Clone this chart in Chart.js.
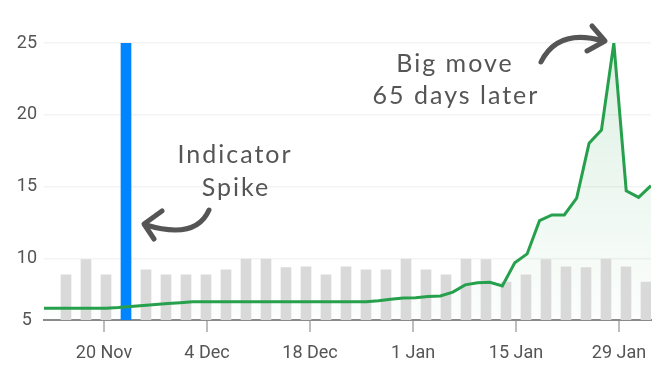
<!DOCTYPE html>
<html>
<head>
<meta charset="utf-8">
<script src="https://cdn.jsdelivr.net/npm/chart.js@4.4.1/dist/chart.umd.min.js"></script>
<style>
  html, body { margin: 0; padding: 0; background: #fff; }
  #wrap { width: 665px; height: 387px; }
</style>
</head>
<body>
<div id="wrap"><canvas id="myChart"></canvas></div>
<script>
// date axis (days from 20 Nov)
const tickDays = [0, 14, 28, 42, 56, 70];
const tickLabels = ['20 Nov', '4 Dec', '18 Dec', '1 Jan', '15 Jan', '29 Jan'];
const yTicks = [5, 10, 15, 20, 25];

// grey indicator bars, one is the spike
const barValues = [8.9, 9.95, 8.9, 25, 9.25, 8.9, 8.9, 8.9, 9.25, 10, 10, 9.4, 9.45, 8.9, 9.45,
                   9.25, 9.25, 10, 9.25, 8.9, 10, 9.95, 8.4, 8.9, 9.95, 9.45, 9.4, 10, 9.45, 8.4];
const spikeIndex = 3;

// price line
const priceValues = [6.58, 6.58, 6.58, 6.58, 6.58, 6.58, 6.62, 6.69, 6.76, 6.83, 6.9, 6.96, 7.02, 7.03,
                     7.02, 7.02, 7.02, 7.02, 7.02, 7.02, 7.02, 7.02, 7.02, 7.02, 7.02, 7.02, 7.02,
                     7.1, 7.2, 7.28, 7.31, 7.4, 7.43, 7.7, 8.2, 8.35, 8.38, 8.13, 9.74, 10.35,
                     12.66, 13.06, 13.06, 14.22, 18.03, 18.96, 25, 14.74, 14.28, 15.09];

const notes = {
  spike: ['Indicator', 'Spike'],
  move: ['Big move', '65 days later']
};

const handFont = '25px Lato';

// draws the handwritten notes and arrows
const notesPlugin = {
  id: 'notes',
  afterDatasetsDraw(chart) {
    const ctx = chart.ctx;
    ctx.save();
    ctx.fillStyle = '#555';
    ctx.strokeStyle = '#555';
    ctx.font = handFont;
    ctx.letterSpacing = '2px';
    ctx.textAlign = 'center';
    ctx.textBaseline = 'middle';
    ctx.fillText(notes.spike[0], 235, 155);
    ctx.fillText(notes.spike[1], 236, 188);
    ctx.fillText(notes.move[0], 455, 64);
    ctx.fillText(notes.move[1], 456, 96);

    ctx.lineWidth = 5;
    ctx.lineCap = 'round';
    ctx.lineJoin = 'round';
    // spike arrow
    ctx.beginPath();
    ctx.moveTo(209, 210);
    ctx.quadraticCurveTo(196, 240, 146, 225);
    ctx.stroke();
    ctx.beginPath();
    ctx.moveTo(162, 211);
    ctx.lineTo(144, 224);
    ctx.lineTo(154, 239);
    ctx.stroke();
    // big move arrow
    ctx.beginPath();
    ctx.moveTo(541, 62);
    ctx.quadraticCurveTo(558, 28, 603, 41);
    ctx.stroke();
    ctx.beginPath();
    ctx.moveTo(592, 26);
    ctx.lineTo(605, 41);
    ctx.lineTo(587, 51);
    ctx.stroke();
    ctx.restore();
  }
};

const ctx = document.getElementById('myChart').getContext('2d');
const chart = new Chart(ctx, {
  data: {
    datasets: [
      {
        type: 'line',
        label: 'Price',
        xAxisID: 'xl',
        data: priceValues.map((v, i) => ({ x: i, y: v })),
        borderColor: '#27a04d',
        borderWidth: 3,
        pointRadius: 0,
        tension: 0,
        fill: 'start',
        backgroundColor: function (context) {
          const area = context.chart.chartArea;
          if (!area) return 'rgba(39,160,77,0.08)';
          const g = context.chart.ctx.createLinearGradient(0, area.top, 0, area.bottom);
          g.addColorStop(0, 'rgba(39,160,77,0.16)');
          g.addColorStop(1, 'rgba(39,160,77,0.01)');
          return g;
        },
        order: 0
      },
      {
        type: 'bar',
        label: 'Indicator',
        xAxisID: 'xb',
        data: barValues.map((v, i) => ({ x: i, y: v })),
        backgroundColor: barValues.map((v, i) => i === spikeIndex ? '#0084ff' : '#d9d9d9'),
        barThickness: 10,
        grouped: false,
        order: 1
      }
    ]
  },
  options: {
    responsive: true,
    maintainAspectRatio: false,
    animation: false,
    layout: { padding: { top: 43, right: 14, left: 0, bottom: 0 } },
    plugins: {
      legend: { display: false },
      tooltip: { enabled: false },
      filler: { drawTime: 'beforeDatasetsDraw' }
    },
    scales: {
      x: {
        type: 'linear',
        position: 'bottom',
        offset: false,
        min: -8.16,
        max: 74.35,
        afterBuildTicks: function (scale) {
          scale.ticks = tickDays.map(d => ({ value: d }));
        },
        afterFit: function (scale) { scale.height = 67; },
        ticks: {
          autoSkip: false,
          maxRotation: 0,
          padding: 11,
          color: '#555',
          font: { family: 'Roboto', size: 18 },
          callback: function (value) {
            const k = tickDays.indexOf(value);
            return k >= 0 ? tickLabels[k] : '';
          }
        },
        grid: { drawOnChartArea: false, offset: false, color: '#bdbdbd', lineWidth: 2, tickLength: 12 },
        border: { color: '#8a8a8a', width: 2 }
      },
      xl: { type: 'linear', display: false, offset: false, min: 0, max: 49 },
      xb: { type: 'linear', display: false, offset: false, grid: { offset: false }, min: -1.1, max: 29.25 },
      y: {
        min: 5.76,
        max: 25,
        afterBuildTicks: function (scale) {
          scale.ticks = yTicks.map(v => ({ value: Math.max(v, scale.min) }));
        },
        afterFit: function (scale) { scale.width = 44; },
        ticks: {
          padding: 7,
          crossAlign: 'center',
          color: '#555',
          font: { family: 'Roboto', size: 18 },
          callback: function (value, index) { return yTicks[index]; }
        },
        grid: { color: '#f3f3f3', lineWidth: 1.5, drawTicks: false },
        border: { display: false }
      }
    }
  },
  plugins: [notesPlugin]
});
</script>
</body>
</html>
